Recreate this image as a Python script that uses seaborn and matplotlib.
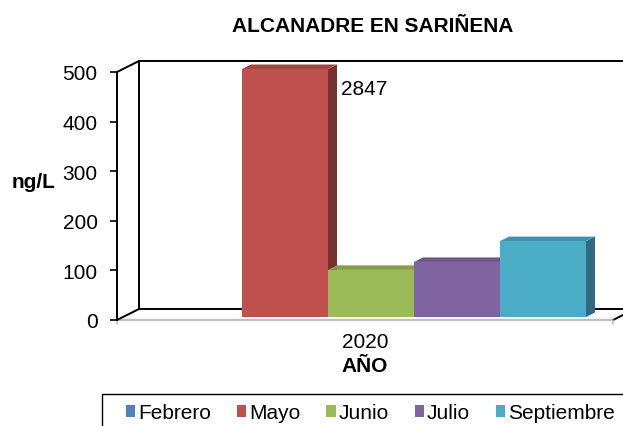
import numpy as np
import pandas as pd
import matplotlib
matplotlib.use("Agg")
import matplotlib.pyplot as plt
import seaborn as sns
from matplotlib.patches import Polygon, Rectangle, Patch
from matplotlib.transforms import ScaledTranslation, IdentityTransform
from matplotlib.lines import Line2D
from matplotlib.colors import to_rgb, to_hex

# ---- data -------------------------------------------------------------
anios = ["2020"] * 5
meses = ["Febrero", "Mayo", "Junio", "Julio", "Septiembre"]
valores = [np.nan, 2847, 95, 111, 153]
colores = ["#4F81BD", "#C0504D", "#9BBB59", "#8064A2", "#4BACC6"]
y_ticks = [0, 100, 200, 300, 400, 500]
y_max = 500

# ---- figure -----------------------------------------------------------
W, H, DPI = 623, 427, 100
FS = 15
sns.set_theme(style="white")
plt.rcParams["font.family"] = ["Liberation Sans", "DejaVu Sans"]
plt.rcParams.update({"text.color": "black", "axes.labelcolor": "black",
                     "xtick.color": "black", "ytick.color": "black"})

fig = plt.figure(figsize=(W / DPI, H / DPI), dpi=DPI)
fig.patch.set_facecolor("white")
ax = fig.add_axes([117 / W, 1 - 321 / H, (613 - 117) / W, (321 - 73) / H])
ax.set_facecolor("none")

df = pd.DataFrame({"anio": anios, "mes": meses, "valor": valores})
sns.barplot(data=df, x="anio", y="valor", hue="mes", hue_order=meses,
            palette=colores, width=0.867, gap=0, saturation=1,
            errorbar=None, legend=False, ax=ax)

ax.set_xlim(-0.5, 0.5)
ax.set_ylim(0, y_max)
ax.set_yticks(y_ticks)
ax.set_ylabel("")
ax.set_xlabel("AÑO", fontsize=FS, fontweight="bold", labelpad=3)

fig.canvas.draw()


def shift(dx, dy):
    return ScaledTranslation(dx / DPI, dy / DPI, fig.dpi_scale_trans)


def disp(x, y, dx, dy):
    X, Y = ax.transData.transform((x, y))
    return (X + dx, Y + dy)


def shade(c, f):
    r, g, b = to_rgb(c)
    return (r * f, g * f, b * f)


# ---- pseudo-3D columns ------------------------------------------------
FX, FY = 6, 3        # front plane of the columns
BX, BY = 15, 7.5     # back plane of the columns
bars = [p for p in ax.patches if np.isfinite(p.get_height()) and p.get_height() > 0]
bars.sort(key=lambda p: p.get_x())
mayo_patch = None
for i, p in enumerate(bars):
    x0, w, h = p.get_x(), p.get_width(), p.get_height()
    top = min(h, y_max)
    col = p.get_facecolor()
    if to_hex(col[:3]).lower() == colores[1].lower():
        mayo_patch = p
    p.set_linewidth(0)
    p.set_transform(ax.transData + shift(FX, FY))
    clip = Rectangle((0, 0), 1, 1, transform=ax.transAxes + shift(FX, FY))
    p.set_clip_path(clip)
    p.set_zorder(3 + 2 * i)

    side = [disp(x0 + w, 0, FX, FY), disp(x0 + w, top, FX, FY),
            disp(x0 + w, top, BX, BY), disp(x0 + w, 0, BX, BY)]
    cap = [disp(x0, top, FX, FY), disp(x0 + w, top, FX, FY),
           disp(x0 + w, top, BX, BY), disp(x0, top, BX, BY)]
    for verts, f in ((side, 0.62), (cap, 0.85)):
        poly = Polygon(verts, closed=True, facecolor=shade(col, f), lw=0,
                       transform=IdentityTransform(), clip_on=False,
                       zorder=2 + 2 * i)
        ax.add_patch(poly)

# ---- walls and floor --------------------------------------------------
L, B = ax.transAxes.transform((0, 0))
R, T = ax.transAxes.transform((1, 1))
DX, DY = 22, 11
frame = [
    ((L, B), (L + DX, B + DY)),
    ((L, T), (L + DX, T + DY)),
    ((L + DX, B + DY), (L + DX, T + DY)),
    ((L + DX, T + DY), (R + DX, T + DY)),
    ((L + DX, B + DY), (R + DX, B + DY)),
    ((R, B), (R + DX, B + DY)),
]
for (x1, y1), (x2, y2) in frame:
    ax.add_line(Line2D([x1, x2], [y1, y2], color="black", lw=1.4,
                       transform=IdentityTransform(), clip_on=False, zorder=1))
for xs in (L, R):
    ax.add_line(Line2D([xs, xs], [B, B - 4], color="#BFBFBF", lw=1.2,
                       transform=IdentityTransform(), clip_on=False, zorder=1))

for s in ("top", "right"):
    ax.spines[s].set_visible(False)
ax.spines["left"].set_color("black")
ax.spines["left"].set_linewidth(1.4)
ax.spines["bottom"].set_color("#BFBFBF")
ax.spines["bottom"].set_linewidth(1.6)
ax.spines["bottom"].set_zorder(0.5)

ax.tick_params(axis="y", direction="out", length=5, width=1.2, color="black",
               pad=9, labelsize=FS, left=True)
ax.tick_params(axis="x", length=0, pad=9, labelsize=FS)

# ---- value label on the clipped column --------------------------------
if mayo_patch is not None:
    ax.annotate(f"{valores[1]:.0f}",
                xy=(mayo_patch.get_x() + mayo_patch.get_width(), y_max),
                xytext=(19, -22), textcoords="offset pixels",
                ha="left", va="baseline", fontsize=FS, annotation_clip=False)

# ---- texts --------------------------------------------------------------
fig.text(373 / W, 1 - 32 / H, "ALCANADRE EN SARIÑENA", ha="center",
         va="baseline", fontsize=FS, fontweight="bold")
fig.text(12 / W, 1 - 188 / H, "ng/L", ha="left", va="baseline",
         fontsize=FS, fontweight="bold")

# ---- legend -------------------------------------------------------------
fig.add_artist(Rectangle((102 / W, -0.05), 0.9, 1 - 395 / H + 0.05,
                         transform=fig.transFigure, facecolor="none",
                         edgecolor="black", lw=1.0))
handles = [Patch(facecolor=c, edgecolor="none") for c in colores]
leg = fig.legend(handles, meses, loc="center left",
                 bbox_to_anchor=(126 / W, 1 - 414 / H), ncol=5,
                 frameon=False, handlelength=0.45, handleheight=0.45,
                 handletextpad=0.12, columnspacing=1.26, borderaxespad=0,
                 borderpad=0, fontsize=FS)

fig.savefig("out.png", dpi=DPI, facecolor="white")
